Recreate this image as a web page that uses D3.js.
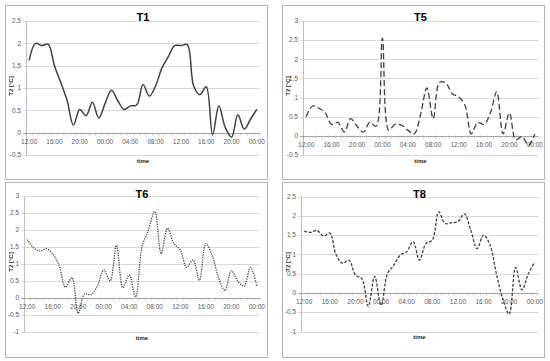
<!DOCTYPE html>
<html lang="en">
<head>
<meta charset="UTF-8">
<title>T2 sensors</title>
<script src="https://d3js.org/d3.v7.min.js"></script>
<style>
    body { margin: 0; background: #fff; }
    svg { display: block; font-family: "Liberation Sans", Arial, sans-serif; }
    .grid line { stroke: #d9d9d9; stroke-width: 1; }
    .tick-label { fill: #595959; font-size: 6.5px; }
    .title { font-weight: bold; font-size: 11px; fill: #000; }
    .axis-title { font-weight: bold; font-size: 6px; fill: #262626; }
</style>
</head>
<body>
<svg width="550" height="361"></svg>
<script>
// hourly readings, 12:00 day 1 through 00:00 day 3
const hours = d3.range(0, 37);
const timeLabels = ["12:00", "16:00", "20:00", "00:00", "04:00", "08:00", "12:00", "16:00", "20:00", "00:00"];

const t1 = [1.62, 2.0, 1.95, 1.98, 1.5, 1.12, 0.72, 0.17, 0.52, 0.38, 0.68, 0.33, 0.65, 0.95, 0.72, 0.52,
    0.6, 0.62, 1.08, 0.82, 1.05, 1.45, 1.7, 1.95, 1.95, 1.97, 1.05, 0.85, 1.03, -0.05, 0.6, 0.12, -0.1,
    0.4, 0.08, 0.3, 0.52];
const t5 = [0.5, 0.78, 0.72, 0.6, 0.3, 0.35, 0.1, 0.45, 0.25, 0.1, 0.35, 0.25, 2.55, 0.15, 0.3, 0.28,
    0.15, 0.05, 0.55, 1.25, 0.45, 1.4, 1.38, 1.1, 1.02, 0.8, 0.05, 0.35, 0.3, 0.6, 1.15, 0.05, 0.6,
    -0.1, -0.02, -0.25, 0.05];
const t6 = [1.72, 1.48, 1.38, 1.45, 1.3, 0.95, 0.32, 0.6, -0.45, 0.12, 0.1, 0.35, 0.83, 0.5, 1.55, 0.3,
    0.68, 0.03, 1.5, 2.0, 2.55, 1.3, 2.05, 1.6, 1.42, 0.9, 1.12, 0.52, 1.6, 1.25, 0.6, 0.22, 0.8, 0.5,
    0.35, 0.9, 0.35];
const t8 = [1.6, 1.57, 1.62, 1.48, 1.55, 0.98, 0.77, 0.85, 0.46, 0.37, -0.35, 0.43, -0.32, 0.5, 0.72,
    0.98, 1.07, 1.33, 0.85, 1.28, 1.37, 2.1, 1.8, 1.82, 1.85, 2.05, 1.63, 1.15, 1.5, 1.25, 0.5, -0.15,
    -0.55, 0.66, 0.08, 0.5, 0.8];

const ticksT1 = [-0.5, 0, 0.5, 1, 1.5, 2, 2.5];
const ticksT5 = [-0.5, 0, 0.5, 1, 1.5, 2, 2.5, 3];
const ticksT6 = [-1, -0.5, 0, 0.5, 1, 1.5, 2, 2.5, 3];
const ticksT8 = [-1, -0.5, 0, 0.5, 1, 1.5, 2, 2.5];

const svg = d3.select("svg");

const panels = [
    { name: "T1", values: t1, ticks: ticksT1, box: [5, 5, 262, 174], plot: [26, 21, 234, 134], dash: null },
    { name: "T5", values: t5, ticks: ticksT5, box: [282, 5, 262, 174], plot: [303, 21, 235, 134], dash: "6,3" },
    { name: "T6", values: t6, ticks: ticksT6, box: [5, 182, 262, 175], plot: [24, 196, 236, 136], dash: "1.2,1.2" },
    { name: "T8", values: t8, ticks: ticksT8, box: [282, 182, 262, 175], plot: [301, 196.5, 237, 135], dash: "3,1.6" }
];

panels.forEach(drawPanel);

function drawPanel(p) {
    const [bx, by, bw, bh] = p.box;
    const [px, py, pw, ph] = p.plot;

    svg.append("rect")
        .attr("x", bx + 0.5).attr("y", by + 0.5)
        .attr("width", bw).attr("height", bh)
        .attr("fill", "#fff")
        .attr("stroke", "#b3b3b3");

    const x = d3.scalePoint().domain(hours).range([px, px + pw]).padding(0.5);
    const y = d3.scaleLinear().domain(d3.extent(p.ticks)).range([py + ph, py]);

    // horizontal gridlines
    const grid = svg.append("g").attr("class", "grid");
    grid.selectAll("line").data(p.ticks.filter(t => t !== 0)).join("line")
        .attr("x1", px - 3).attr("x2", px + pw)
        .attr("y1", d => Math.round(y(d)) + 0.5).attr("y2", d => Math.round(y(d)) + 0.5);

    // y axis line
    svg.append("line")
        .attr("x1", px + 0.5).attr("x2", px + 0.5)
        .attr("y1", py).attr("y2", py + ph)
        .attr("stroke", "#bfbfbf");

    // y tick labels
    svg.append("g").selectAll("text").data(p.ticks).join("text")
        .attr("class", "tick-label")
        .attr("x", px - 5)
        .attr("y", d => y(d))
        .attr("dy", "0.35em")
        .attr("text-anchor", "end")
        .text(d => d);

    // x axis sits on the zero line
    const y0 = Math.round(y(0)) + 0.5;
    svg.append("line")
        .attr("x1", px - 3).attr("x2", px + pw)
        .attr("y1", y0).attr("y2", y0)
        .attr("stroke", "#a6a6a6");

    const step = x.step();
    svg.append("g").selectAll("line").data(d3.range(0, 38)).join("line")
        .attr("x1", i => px + i * step).attr("x2", i => px + i * step)
        .attr("y1", y0 - 1).attr("y2", y0 + 2)
        .attr("stroke", "#a6a6a6").attr("stroke-width", 0.6);

    svg.append("g").selectAll("text").data(timeLabels).join("text")
        .attr("class", "tick-label")
        .attr("x", (d, i) => x(i * 4))
        .attr("y", y0 + 10)
        .attr("text-anchor", "middle")
        .text(d => d);

    // series
    const line = d3.line()
        .x((d, i) => x(hours[i]))
        .y(d => y(d))
        .curve(d3.curveCatmullRom.alpha(0.5));

    svg.append("path")
        .datum(p.values)
        .attr("fill", "none")
        .attr("stroke", "#404040")
        .attr("stroke-width", p.dash ? 1.3 : 1.5)
        .attr("stroke-dasharray", p.dash)
        .attr("d", line);

    // titles
    svg.append("text")
        .attr("class", "title")
        .attr("x", px + pw / 2)
        .attr("y", by + 16)
        .attr("text-anchor", "middle")
        .text(p.name);

    svg.append("text")
        .attr("class", "axis-title")
        .attr("x", px + pw / 2)
        .attr("y", y(d3.min(p.ticks)) + 7.5)
        .attr("text-anchor", "middle")
        .text("time");

    svg.append("text")
        .attr("class", "axis-title")
        .attr("transform", `translate(${bx + 8},${py + ph / 2 - 2}) rotate(-90)`)
        .attr("text-anchor", "middle")
        .text("T2 [°C]");
}
</script>
</body>
</html>
